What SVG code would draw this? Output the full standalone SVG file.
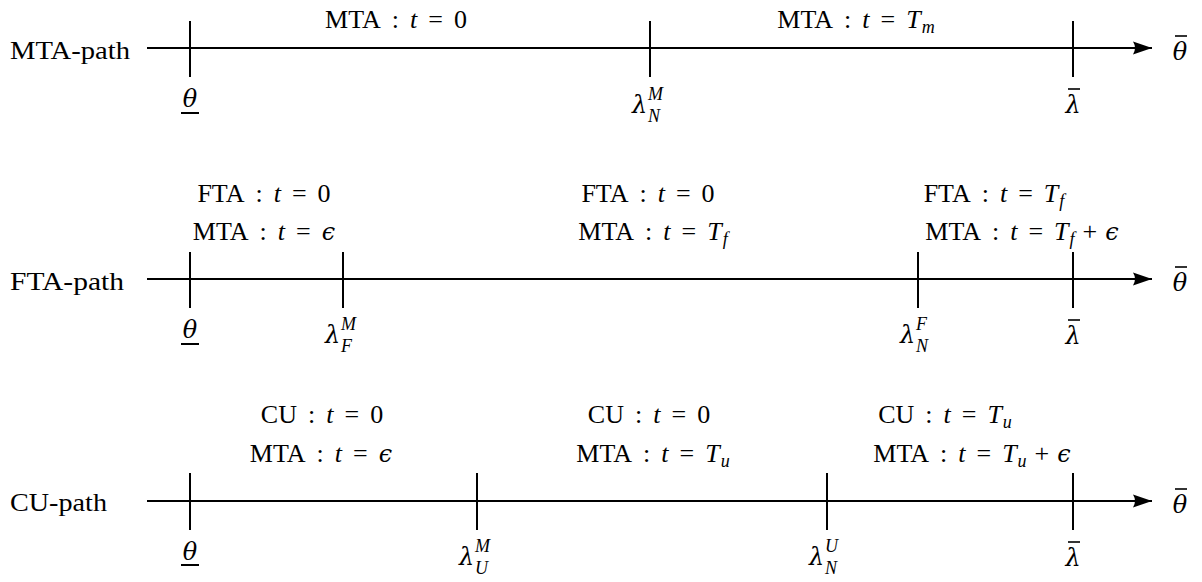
<svg xmlns="http://www.w3.org/2000/svg" width="1202" height="582" viewBox="0 0 1202 582">
<style>
.t{font-family:"Liberation Serif","DejaVu Serif",serif;font-size:26px;fill:#000}
.i{font-style:italic}
.g{font-family:"DejaVu Serif",serif;font-size:24px}
.s{font-size:18px}
.ax{stroke:#000;stroke-width:2;fill:none}
.tk{stroke:#000;stroke-width:2}
.bar{stroke:#000;stroke-width:1.6}
</style>
<defs>
<marker id="arr" markerUnits="userSpaceOnUse" markerWidth="22" markerHeight="16" refX="20" refY="8" orient="auto">
<path d="M20,8 L1,1.5 Q5,8 1,14.5 Z" fill="#000"/>
</marker>
</defs>

<g id="connectors">
<line class="ax" x1="147" y1="48" x2="1152" y2="48" marker-end="url(#arr)"/>
<line class="ax" x1="147" y1="279" x2="1152" y2="279" marker-end="url(#arr)"/>
<line class="ax" x1="147" y1="501" x2="1152" y2="501" marker-end="url(#arr)"/>
</g>

<!-- Row 1: MTA-path -->
<g id="mta-path">
<text class="t" x="10" y="59" textLength="120" lengthAdjust="spacingAndGlyphs">MTA-path</text>
<g id="mta-theta-low">
<line class="tk" x1="190" y1="21" x2="190" y2="77"/>
<text class="t i g" x="190" y="107" text-anchor="middle">θ</text>
<line class="tk" x1="181" y1="113" x2="199" y2="113"/>
</g>
<g id="mta-lambda-NM">
<line class="tk" x1="650" y1="21" x2="650" y2="77"/>
<text class="t i" x="632" y="113"><tspan class="g">λ</tspan><tspan class="s" x="648" y="100">M</tspan><tspan class="s" x="648" y="122">N</tspan></text>
</g>
<g id="mta-lambda-bar">
<line class="tk" x1="1073" y1="21" x2="1073" y2="77"/>
<text class="t i g" x="1073" y="113" text-anchor="middle">λ</text>
<line class="bar" x1="1068" y1="89" x2="1080" y2="89"/>
</g>
<g id="mta-theta-bar">
<text class="t i g" x="1180" y="60" text-anchor="middle">θ</text>
<line class="bar" x1="1175" y1="36" x2="1187" y2="36"/>
</g>
<text class="t" x="396" y="28" text-anchor="middle">MTA<tspan dx="11">:</tspan><tspan class="i" dx="11">t</tspan><tspan dx="11">=</tspan><tspan dx="11">0</tspan></text>
<text class="t" x="856" y="28" text-anchor="middle">MTA<tspan dx="11">:</tspan><tspan class="i" dx="11">t</tspan><tspan dx="11">=</tspan><tspan class="i" dx="11">T</tspan><tspan class="i s" dx="1" dy="5">m</tspan></text>
</g>

<!-- Row 2: FTA-path -->
<g id="fta-path">
<text class="t" x="10" y="290" textLength="114" lengthAdjust="spacingAndGlyphs">FTA-path</text>
<g id="fta-theta-low">
<line class="tk" x1="190" y1="252" x2="190" y2="308"/>
<text class="t i g" x="190" y="338" text-anchor="middle">θ</text>
<line class="tk" x1="181" y1="344" x2="199" y2="344"/>
</g>
<g id="fta-lambda-FM">
<line class="tk" x1="343" y1="252" x2="343" y2="308"/>
<text class="t i" x="325" y="343"><tspan class="g">λ</tspan><tspan class="s" x="341" y="330">M</tspan><tspan class="s" x="341" y="352">F</tspan></text>
</g>
<g id="fta-lambda-NF">
<line class="tk" x1="918" y1="252" x2="918" y2="308"/>
<text class="t i" x="900" y="343"><tspan class="g">λ</tspan><tspan class="s" x="916" y="330">F</tspan><tspan class="s" x="916" y="352">N</tspan></text>
</g>
<g id="fta-lambda-bar">
<line class="tk" x1="1073" y1="252" x2="1073" y2="308"/>
<text class="t i g" x="1073" y="344" text-anchor="middle">λ</text>
<line class="bar" x1="1068" y1="320" x2="1080" y2="320"/>
</g>
<g id="fta-theta-bar">
<text class="t i g" x="1180" y="291" text-anchor="middle">θ</text>
<line class="bar" x1="1175" y1="267" x2="1187" y2="267"/>
</g>
<text class="t" x="264" y="202" text-anchor="middle">FTA<tspan dx="11">:</tspan><tspan class="i" dx="11">t</tspan><tspan dx="11">=</tspan><tspan dx="11">0</tspan></text>
<text class="t" x="264" y="240" text-anchor="middle">MTA<tspan dx="11">:</tspan><tspan class="i" dx="11">t</tspan><tspan dx="11">=</tspan><tspan class="i g" dx="11">ϵ</tspan></text>
<text class="t" x="648" y="202" text-anchor="middle">FTA<tspan dx="11">:</tspan><tspan class="i" dx="11">t</tspan><tspan dx="11">=</tspan><tspan dx="11">0</tspan></text>
<text class="t" x="653" y="240" text-anchor="middle">MTA<tspan dx="11">:</tspan><tspan class="i" dx="11">t</tspan><tspan dx="11">=</tspan><tspan class="i" dx="11">T</tspan><tspan class="i s" dx="1" dy="5">f</tspan></text>
<text class="t" x="994" y="202" text-anchor="middle">FTA<tspan dx="11">:</tspan><tspan class="i" dx="11">t</tspan><tspan dx="11">=</tspan><tspan class="i" dx="11">T</tspan><tspan class="i s" dx="1" dy="5">f</tspan></text>
<text class="t" x="1022" y="240" text-anchor="middle">MTA<tspan dx="11">:</tspan><tspan class="i" dx="11">t</tspan><tspan dx="11">=</tspan><tspan class="i" dx="11">T</tspan><tspan class="i s" dx="1" dy="5">f</tspan><tspan dx="8" dy="-5">+</tspan><tspan class="i g" dx="8">ϵ</tspan></text>
</g>

<!-- Row 3: CU-path -->
<g id="cu-path">
<text class="t" x="10" y="511" textLength="97" lengthAdjust="spacingAndGlyphs">CU-path</text>
<g id="cu-theta-low">
<line class="tk" x1="190" y1="473" x2="190" y2="530"/>
<text class="t i g" x="190" y="560" text-anchor="middle">θ</text>
<line class="tk" x1="181" y1="565" x2="199" y2="565"/>
</g>
<g id="cu-lambda-UM">
<line class="tk" x1="477" y1="473" x2="477" y2="530"/>
<text class="t i" x="459" y="565"><tspan class="g">λ</tspan><tspan class="s" x="475" y="552">M</tspan><tspan class="s" x="475" y="574">U</tspan></text>
</g>
<g id="cu-lambda-NU">
<line class="tk" x1="827" y1="473" x2="827" y2="530"/>
<text class="t i" x="809" y="565"><tspan class="g">λ</tspan><tspan class="s" x="825" y="552">U</tspan><tspan class="s" x="825" y="574">N</tspan></text>
</g>
<g id="cu-lambda-bar">
<line class="tk" x1="1073" y1="473" x2="1073" y2="530"/>
<text class="t i g" x="1073" y="566" text-anchor="middle">λ</text>
<line class="bar" x1="1068" y1="542" x2="1080" y2="542"/>
</g>
<g id="cu-theta-bar">
<text class="t i g" x="1180" y="513" text-anchor="middle">θ</text>
<line class="bar" x1="1175" y1="489" x2="1187" y2="489"/>
</g>
<text class="t" x="322" y="423" text-anchor="middle">CU<tspan dx="11">:</tspan><tspan class="i" dx="11">t</tspan><tspan dx="11">=</tspan><tspan dx="11">0</tspan></text>
<text class="t" x="321" y="462" text-anchor="middle">MTA<tspan dx="11">:</tspan><tspan class="i" dx="11">t</tspan><tspan dx="11">=</tspan><tspan class="i g" dx="11">ϵ</tspan></text>
<text class="t" x="649" y="423" text-anchor="middle">CU<tspan dx="11">:</tspan><tspan class="i" dx="11">t</tspan><tspan dx="11">=</tspan><tspan dx="11">0</tspan></text>
<text class="t" x="653" y="462" text-anchor="middle">MTA<tspan dx="11">:</tspan><tspan class="i" dx="11">t</tspan><tspan dx="11">=</tspan><tspan class="i" dx="11">T</tspan><tspan class="i s" dx="1" dy="5">u</tspan></text>
<text class="t" x="945" y="423" text-anchor="middle">CU<tspan dx="11">:</tspan><tspan class="i" dx="11">t</tspan><tspan dx="11">=</tspan><tspan class="i" dx="11">T</tspan><tspan class="i s" dx="1" dy="5">u</tspan></text>
<text class="t" x="972" y="462" text-anchor="middle">MTA<tspan dx="11">:</tspan><tspan class="i" dx="11">t</tspan><tspan dx="11">=</tspan><tspan class="i" dx="11">T</tspan><tspan class="i s" dx="1" dy="5">u</tspan><tspan dx="8" dy="-5">+</tspan><tspan class="i g" dx="8">ϵ</tspan></text>
</g>
</svg>
